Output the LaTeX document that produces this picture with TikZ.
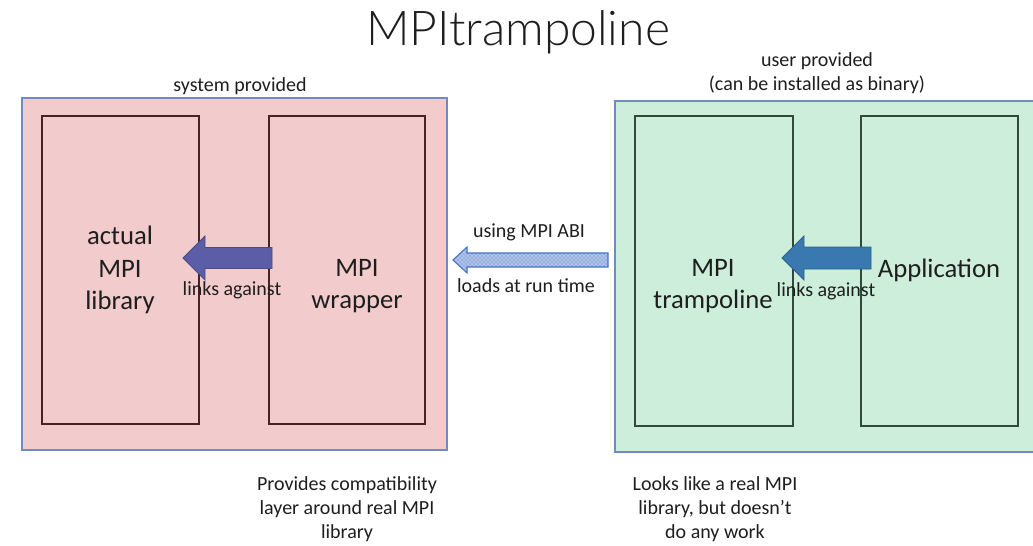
\documentclass[tikz,border=0pt]{standalone}
\usepackage{fontspec}
\setmainfont{Carlito}
\newfontfamily\titlefont{Lato Light}
\usetikzlibrary{fit,patterns}

\definecolor{sysfill}{HTML}{F2CBCC}
\definecolor{userfill}{HTML}{CCEEDA}
\definecolor{outerline}{HTML}{6F8BC4}
\definecolor{sysline}{HTML}{4A2222}
\definecolor{userline}{HTML}{2F4A3C}
\definecolor{linkpurple}{HTML}{5B5EA6}
\definecolor{linkblue}{HTML}{3A79B0}
\definecolor{abiline}{HTML}{4472C4}
\definecolor{abifill}{HTML}{AFC3E8}
\definecolor{txt}{HTML}{1E1E1E}

\tikzset{
  outerbox/.style={draw=outerline, line width=1.5pt, inner sep=0pt},
  sysouter/.style={outerbox, fill=sysfill},
  userouter/.style={outerbox, fill=userfill},
  sysinner/.style={draw=sysline, line width=1pt, inner sep=0pt},
  userinner/.style={draw=userline, line width=1pt, inner sep=0pt},
  small/.style={text=txt, align=center, font=\fontsize{15}{18}\selectfont},
  big/.style={text=txt, align=center, font=\fontsize{20}{24.4}\selectfont},
  linkarrow/.style={draw=#1!80!black, line width=0.6pt, fill=#1},
  abiarrow/.style={draw=abiline, line width=0.8pt, fill=abifill,
    postaction={pattern=crosshatch dots, pattern color=abiline}},
}

\begin{document}
\begin{tikzpicture}[x=0.75pt, y=-0.75pt]
\useasboundingbox (0,0) rectangle (1033,546);
\clip (0,0) rectangle (1033,546);

% title
\node[text=txt, font=\titlefont\fontsize{36}{41}\selectfont] (title) at (518,32) {MPItrampoline};

% system provided side
\node[sysouter, fit={(22,98) (447,450)}] (sys) {};
\node[sysinner, fit={(42,116) (199,424)}] (mpilib) {};
\node[sysinner, fit={(269,116) (425,424)}] (wrapper) {};
\node[small] (syslabel) at (240,86) {system provided};
\node[big] (mpilibtext) at (120,270) {actual\\MPI\\library};
\node[big] (wrappertext) at (357,286) {MPI\\wrapper};

% user provided side
\node[userouter, fit={(615,101) (1040,452)}] (user) {};
\node[userinner, fit={(635,116) (793,426)}] (tramp) {};
\node[userinner, fit={(861,116) (1018,426)}] (app) {};
\node[small] (userlabel) at (817,73) {user provided\\(can be installed as binary)};
\node[big] (tramptext) at (713,286) {MPI\\trampoline};
\node[big] (apptext) at (939,270) {Application};

% wrapper -> MPI library
\coordinate (la) at (183,258);
\path[linkarrow=linkpurple] (la) ++(89,-10.5) -- ++(-67,0) -- ++(0,-11.5)
  -- (la) -- ++(22,22) -- ++(0,-11.5) -- ++(67,0) -- cycle;
\node[small] (linkl) at (232,290) {links against};

% trampoline <- application
\coordinate (ra) at (782,258);
\path[linkarrow=linkblue] (ra) ++(89,-11) -- ++(-67,0) -- ++(0,-11)
  -- (ra) -- ++(22,22) -- ++(0,-11) -- ++(67,0) -- cycle;
\node[small] (linkr) at (826,291) {links against};

% run-time loading across the ABI
\coordinate (ma) at (453,260);
\path[abiarrow] (ma) ++(155,-7) -- ++(-141,0) -- ++(0,-6)
  -- (ma) -- ++(14,13) -- ++(0,-6) -- ++(141,0) -- cycle;
\node[small] (abi) at (529,232) {using MPI ABI};
\node[small] (loads) at (526,286) {loads at run time};

% notes below
\node[small] (notel) at (347,509) {Provides compatibility\\layer around real MPI\\library};
\node[small] (noter) at (715,509) {Looks like a real MPI\\library, but doesn’t\\do any work};
\end{tikzpicture}
\end{document}
